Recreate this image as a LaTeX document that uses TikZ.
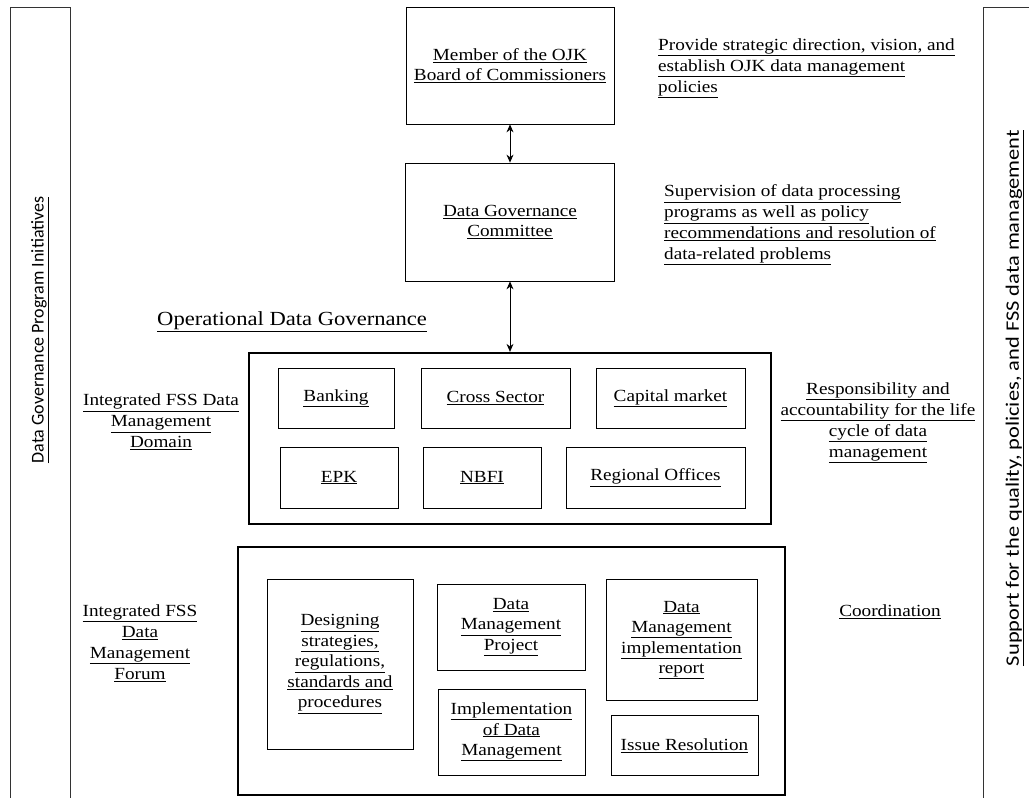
\documentclass[tikz,border=0pt]{standalone}
\usepackage{fontspec}
\setmainfont{Liberation Serif}[FakeStretch=1.13]
\newfontfamily\sidefont{Carlito}
\newfontfamily\sidefontwide{Carlito}[FakeStretch=1.18]
\usetikzlibrary{arrows.meta}
\newcommand{\myul}[1]{\underline{#1}}
\begin{document}
\begin{tikzpicture}[x=1pt,y=-1pt,
  box/.style={draw, line width=0.8pt, inner sep=0pt, align=center, font=\fontsize{17}{20.5}\selectfont},
  bigbox/.style={draw, line width=2.3pt, inner sep=0pt},
  bar/.style={draw=black!80, line width=0.9pt, inner sep=0pt, anchor=north west},
  txt/.style={font=\fontsize{17}{21}\selectfont, align=center, inner sep=0pt},
  sidetxt/.style={font=\sidefont\fontsize{18}{22}\selectfont, rotate=90, inner sep=0pt},
  arr/.style={{Stealth[length=8pt,width=7pt]}-{Stealth[length=8pt,width=7pt]}, line width=0.8pt}]
\useasboundingbox (0,0) rectangle (1029,798);
\clip (0,0) rectangle (1029,798);
% side bars
\node[bar, minimum width=60, minimum height=900] (leftbar) at (10,7) {};
\node[bar, minimum width=80, minimum height=900] (rightbar) at (983,7) {};
\node[sidetxt] (lefttxt) at (40,330) {\myul{Data Governance Program Initiatives}};
\node[sidetxt, font=\sidefontwide\fontsize{19}{23}\selectfont] (righttxt) at (1015,398) {\myul{Support for the quality, policies, and FSS data management}};
% top boxes
\node[box, minimum width=208, minimum height=117] (member) at (510,65.5) {\myul{Member of the OJK}\\\myul{Board of Commissioners}};
\node[box, minimum width=209, minimum height=118] (committee) at (510,222) {\myul{Data Governance}\\\myul{Committee}};
\node[txt, anchor=west, align=left] (provide) at (658,68) {\myul{Provide strategic direction, vision, and}\\\myul{establish OJK data management}\\\myul{policies}};
\node[txt, anchor=west, align=left] (supervision) at (664,225) {\myul{Supervision of data processing}\\\myul{programs as well as policy}\\\myul{recommendations and resolution of}\\\myul{data-related problems}};
\node[txt, anchor=west, font=\fontsize{20}{24}\selectfont] (opdg) at (157,322) {\myul{Operational Data Governance}};
% domain
\node[bigbox, minimum width=522, minimum height=171] (domain) at (510,438.5) {};
\node[box, minimum width=116, minimum height=60] (banking) at (336,398) {\myul{Banking}};
\node[box, minimum width=149, minimum height=60] (cross) at (495.5,398) {\myul{Cross Sector}};
\node[box, minimum width=149, minimum height=60] (capital) at (670.5,398) {\myul{Capital market}};
\node[box, minimum width=118, minimum height=61] (epk) at (339,477.5) {\myul{EPK}};
\node[box, minimum width=118, minimum height=61] (nbfi) at (482,477.5) {\myul{NBFI}};
\node[box, minimum width=179, minimum height=61] (regional) at (655.5,477.5) {\myul{Regional Offices}};
\node[txt] (domtxt) at (161,422) {\myul{Integrated FSS Data}\\\myul{Management}\\\myul{Domain}};
\node[txt] (resp) at (878,423) {\myul{Responsibility and}\\\myul{accountability for the life}\\\myul{cycle of data}\\\myul{management}};
% forum
\node[bigbox, minimum width=547, minimum height=248] (forum) at (511.5,671) {};
\node[box, minimum width=146, minimum height=170] (design) at (340,664) {\myul{Designing}\\\myul{strategies,}\\\myul{regulations,}\\\myul{standards and}\\\myul{procedures}};
\node[box, minimum width=148, minimum height=86] (dmp) at (511,627) {\myul{Data}\\\myul{Management}\\\myul{Project}};
\node[box, minimum width=151, minimum height=121] (dmir) at (681.5,640) {\myul{Data}\\\myul{Management}\\\myul{implementation}\\\myul{report}};
\node[box, minimum width=147, minimum height=86] (impl) at (511.5,732) {\myul{Implementation}\\\myul{of Data}\\\myul{Management}};
\node[box, minimum width=147, minimum height=60] (issue) at (684.5,745.5) {\myul{Issue Resolution}};
\node[txt] (forumtxt) at (140,643) {\myul{Integrated FSS}\\\myul{Data}\\\myul{Management}\\\myul{Forum}};
\node[txt] (coord) at (890,612) {\myul{Coordination}};
% arrows
\draw[arr] (member.south) -- (committee.north);
\draw[arr] (committee.south) -- (domain.north);
\end{tikzpicture}
\end{document}
